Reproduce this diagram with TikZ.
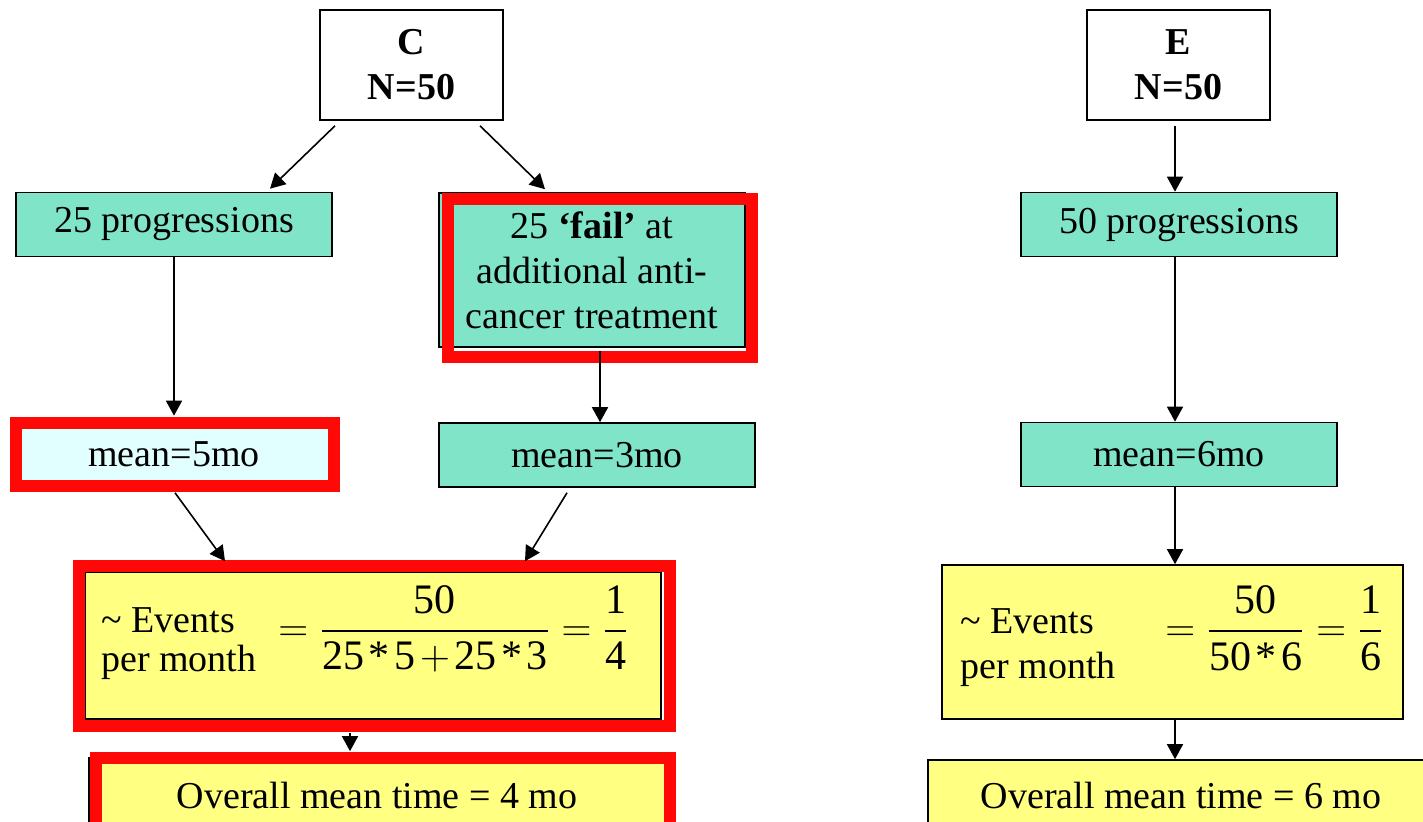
\documentclass[tikz,border=0pt]{standalone}
\usepackage{fontspec}
\setmainfont{Liberation Serif}
\usepackage{amsmath}
\usetikzlibrary{arrows.meta,calc}
\tikzstyle{screen} = [x = 0.5pt, y = -0.5pt]
\definecolor{tealFill}{RGB}{128,228,200}
\definecolor{paleFill}{RGB}{226,255,255}
\definecolor{yellowFill}{RGB}{255,255,130}
\definecolor{frameRed}{RGB}{255,8,8}
\tikzstyle{boxStyle} = [draw=black, line width=0.8pt, inner sep=0pt, align=center, font=\fontsize{19}{22.5}\selectfont]
\tikzstyle{armBox} = [boxStyle, fill=white, font=\fontsize{19}{22.5}\selectfont\bfseries, minimum width=91.5pt, minimum height=55pt]
\tikzstyle{tealBox} = [boxStyle, fill=tealFill, minimum width=158pt, minimum height=32pt]
\tikzstyle{yellowBox} = [boxStyle, fill=yellowFill]
\tikzstyle{redFrame} = [draw=frameRed, line width=6pt]
\tikzstyle{flowArrow} = [-{Triangle[length=7.5pt,width=8pt]}, line width=0.8pt]
\tikzstyle{eventsText} = [anchor=west, inner sep=0pt, align=left]
\tikzstyle{ratioText} = [anchor=west, inner sep=0pt, font=\fontsize{21}{24}\selectfont]
\newcommand{\dig}[1]{\mbox{#1}}
\newcommand{\starOp}{\mathbin{\dig{*}}}
\newcommand{\highlightFrame}[4]{\draw [redFrame] (#1,#2) rectangle (#3,#4);}
\newcommand{\eventsRatio}[3]{$\medmuskip=2mu\displaystyle =\frac{\dig{50}}{#1}=\frac{\dig{1}}{\dig{#2}}$#3}

\begin{document}
\begin{tikzpicture}[screen]
        \useasboundingbox (0,0) rectangle (1423,822);
        \clip (0,0) rectangle (1423,822);

        \node [armBox] (C) at (411.5,65) {C\\N=50};
        \node [tealBox] (prog25) at (174,224.5) {25 progressions};
        \node [tealBox, minimum width=153pt, minimum height=77pt] (fail) at (592,270) {25 \textbf{`fail'} at\\additional anti-\\cancer treatment};
        \node [tealBox, fill=paleFill] (mean5) at (174,454) {mean=5mo};
        \node [tealBox] (mean3) at (597,455) {mean=3mo};
        \node [yellowBox, minimum width=288pt, minimum height=73.5pt] (evC) at (373,645.5) {};
        \node [eventsText, font=\fontsize{19}{19.5}\selectfont] (evCLabel) at (101,644) {\textasciitilde{} Events\\per month};
        \node [ratioText] (evCRatio) at (278,629) {\eventsRatio{\dig{25}\starOp\dig{5}+\dig{25}\starOp\dig{3}}{4}{}};
        \node [yellowBox, minimum width=288pt, minimum height=37pt] (ovC) at (377,795) {Overall mean time = 4 mo};

        \highlightFrame{447.5}{199}{751.5}{357}
        \highlightFrame{16}{423}{334}{486}
        \highlightFrame{79}{566}{670}{726}
        \highlightFrame{96}{758}{670}{840}

        \node [armBox] (E) at (1178.5,65) {E\\N=50};
        \node [tealBox] (prog50) at (1179,224.5) {50 progressions};
        \node [tealBox] (mean6) at (1179,454.5) {mean=6mo};
        \node [yellowBox, minimum width=230.5pt, minimum height=77pt] (evE) at (1172.5,642) {};
        \node [eventsText, font=\fontsize{19}{22.5}\selectfont] (evELabel) at (960,648) {\textasciitilde{} Events\\per month};
        \node [ratioText] (evERatio) at (1165,628) {\eventsRatio{\dig{50}\starOp\dig{6}}{6}{}};
        \node [yellowBox, minimum width=253pt, minimum height=35pt] (ovE) at (1181,795) {Overall mean time = 6 mo};

        \draw [flowArrow] ($(C.south)+(-76.5,5)$) -- ($(prog25.north)+(96,-3)$);
        \draw [flowArrow] ($(C.south)+(68.5,5)$) -- ($(fail.north)+(-47,-3)$);
        \draw [flowArrow] (prog25.south) -- ($(mean5.north)+(0,-5.5)$);
        \draw [flowArrow] ($(fail.south)+(8,3)$) -- ($(mean3.north)+(3,0)$);
        \draw [flowArrow] ($(mean5.south)+(1,6)$) -- ($(evC.north)+(-148,-10)$);
        \draw [flowArrow] ($(mean3.south)+(-30,5)$) -- ($(evC.north)+(152,-10)$);
        \draw [flowArrow] ($(evC.south)+(-23,13)$) -- ($(ovC.north)+(-27,-6)$);

        \draw [flowArrow] ($(E.south)+(-3.5,5)$) -- ($(prog50.north)+(-4,0)$);
        \draw [flowArrow] ($(prog50.south)+(-4,0)$) -- ($(mean6.north)+(-4,0)$);
        \draw [flowArrow] ($(mean6.south)+(-4,0)$) -- ($(evE.north)+(2.5,0)$);
        \draw [flowArrow] ($(evE.south)+(2.5,0)$) -- ($(ovE.north)+(-6,0)$);
      \end{tikzpicture}
\end{document}
